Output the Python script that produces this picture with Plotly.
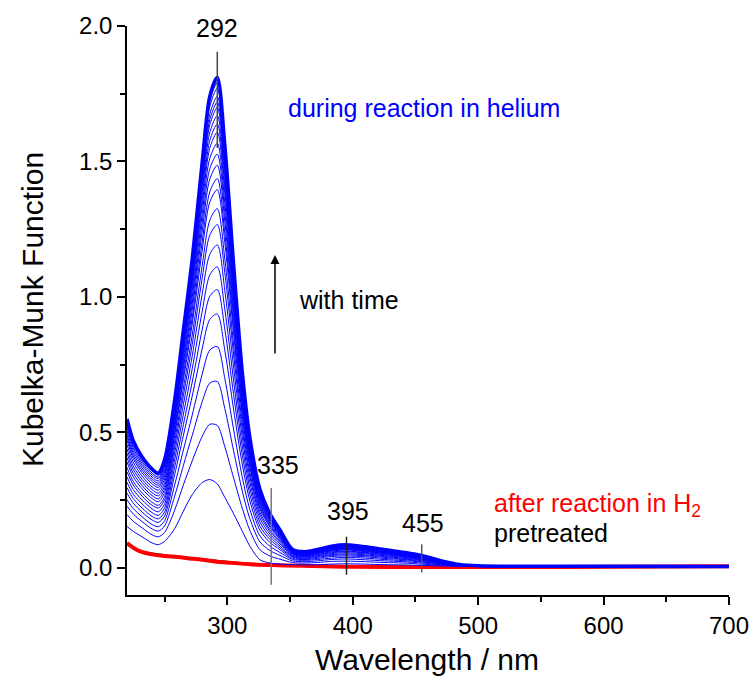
import plotly.graph_objects as go

# Wavelength grid (nm) for the time series of spectra
W = [220, 225, 232, 240, 245, 250, 258, 265, 272, 280, 286, 292, 298, 305, 312, 318, 326, 334,
     342, 352, 362, 372, 383, 395, 410, 425, 440, 455, 470, 485, 500, 530, 600, 700]

# Kubelka-Munk spectra during reaction in helium (increasing with time)
k01 = [0.153, 0.135, 0.115, 0.092, 0.086, 0.098, 0.145, 0.210, 0.270, 0.315, 0.326, 0.310, 0.260, 0.200, 0.135, 0.080, 0.030, 0.018, 0.014, 0.012, 0.011, 0.012, 0.014, 0.015, 0.014, 0.012, 0.011, 0.009, 0.007, 0.006, 0.005, 0.005, 0.005, 0.004]
k02 = [0.197, 0.172, 0.148, 0.122, 0.115, 0.131, 0.213, 0.307, 0.395, 0.486, 0.530, 0.526, 0.447, 0.332, 0.219, 0.138, 0.067, 0.044, 0.032, 0.020, 0.018, 0.020, 0.024, 0.025, 0.023, 0.020, 0.018, 0.014, 0.010, 0.007, 0.005, 0.005, 0.005, 0.004]
k03 = [0.228, 0.199, 0.171, 0.144, 0.136, 0.155, 0.265, 0.379, 0.489, 0.614, 0.682, 0.688, 0.588, 0.432, 0.282, 0.181, 0.096, 0.064, 0.046, 0.026, 0.023, 0.026, 0.031, 0.033, 0.030, 0.026, 0.023, 0.018, 0.012, 0.008, 0.006, 0.005, 0.005, 0.004]
k04 = [0.252, 0.219, 0.189, 0.160, 0.152, 0.174, 0.306, 0.436, 0.564, 0.716, 0.804, 0.817, 0.699, 0.511, 0.333, 0.215, 0.118, 0.080, 0.057, 0.031, 0.028, 0.031, 0.036, 0.039, 0.036, 0.031, 0.027, 0.022, 0.014, 0.008, 0.006, 0.005, 0.005, 0.004]
k05 = [0.276, 0.239, 0.206, 0.177, 0.168, 0.192, 0.344, 0.490, 0.634, 0.810, 0.917, 0.937, 0.803, 0.585, 0.380, 0.247, 0.139, 0.094, 0.067, 0.035, 0.031, 0.035, 0.042, 0.044, 0.041, 0.035, 0.031, 0.024, 0.015, 0.009, 0.006, 0.005, 0.005, 0.004]
k06 = [0.296, 0.256, 0.221, 0.190, 0.181, 0.207, 0.372, 0.530, 0.686, 0.881, 1.002, 1.027, 0.881, 0.640, 0.415, 0.271, 0.154, 0.105, 0.074, 0.039, 0.034, 0.039, 0.046, 0.048, 0.045, 0.039, 0.033, 0.027, 0.017, 0.009, 0.006, 0.005, 0.005, 0.004]
k07 = [0.316, 0.272, 0.236, 0.204, 0.194, 0.222, 0.399, 0.568, 0.735, 0.948, 1.081, 1.111, 0.954, 0.691, 0.447, 0.294, 0.169, 0.115, 0.081, 0.042, 0.037, 0.042, 0.049, 0.052, 0.048, 0.042, 0.036, 0.029, 0.018, 0.010, 0.007, 0.005, 0.005, 0.004]
k08 = [0.336, 0.289, 0.251, 0.218, 0.207, 0.237, 0.424, 0.604, 0.782, 1.012, 1.157, 1.192, 1.024, 0.741, 0.479, 0.315, 0.183, 0.125, 0.088, 0.045, 0.040, 0.045, 0.053, 0.056, 0.052, 0.045, 0.039, 0.031, 0.019, 0.010, 0.007, 0.006, 0.005, 0.004]
k09 = [0.355, 0.306, 0.265, 0.231, 0.221, 0.252, 0.448, 0.637, 0.825, 1.071, 1.228, 1.267, 1.089, 0.787, 0.508, 0.335, 0.196, 0.134, 0.094, 0.048, 0.042, 0.048, 0.056, 0.060, 0.055, 0.048, 0.041, 0.033, 0.020, 0.010, 0.007, 0.006, 0.005, 0.004]
k10 = [0.371, 0.319, 0.277, 0.242, 0.231, 0.264, 0.467, 0.664, 0.859, 1.117, 1.283, 1.326, 1.140, 0.823, 0.531, 0.351, 0.206, 0.141, 0.099, 0.050, 0.044, 0.050, 0.059, 0.062, 0.057, 0.050, 0.043, 0.034, 0.021, 0.011, 0.007, 0.006, 0.005, 0.004]
k11 = [0.391, 0.336, 0.292, 0.256, 0.244, 0.279, 0.489, 0.695, 0.900, 1.173, 1.350, 1.396, 1.201, 0.866, 0.559, 0.370, 0.218, 0.150, 0.105, 0.053, 0.046, 0.053, 0.062, 0.066, 0.060, 0.053, 0.045, 0.036, 0.021, 0.011, 0.007, 0.006, 0.005, 0.004]
k12 = [0.407, 0.349, 0.304, 0.267, 0.255, 0.291, 0.502, 0.713, 0.923, 1.205, 1.388, 1.437, 1.236, 0.891, 0.574, 0.380, 0.225, 0.155, 0.109, 0.054, 0.048, 0.054, 0.064, 0.068, 0.062, 0.054, 0.046, 0.037, 0.022, 0.011, 0.007, 0.006, 0.005, 0.004]
k13 = [0.423, 0.363, 0.316, 0.278, 0.266, 0.303, 0.517, 0.735, 0.952, 1.244, 1.435, 1.486, 1.279, 0.921, 0.594, 0.394, 0.234, 0.161, 0.113, 0.056, 0.049, 0.056, 0.066, 0.070, 0.064, 0.056, 0.048, 0.038, 0.023, 0.011, 0.007, 0.006, 0.005, 0.004]
k14 = [0.439, 0.376, 0.327, 0.289, 0.276, 0.315, 0.530, 0.753, 0.976, 1.276, 1.473, 1.527, 1.314, 0.946, 0.609, 0.404, 0.241, 0.166, 0.116, 0.057, 0.051, 0.057, 0.068, 0.072, 0.066, 0.057, 0.049, 0.039, 0.023, 0.012, 0.008, 0.006, 0.006, 0.005]
k15 = [0.455, 0.390, 0.339, 0.299, 0.287, 0.328, 0.543, 0.771, 0.999, 1.308, 1.511, 1.567, 1.349, 0.971, 0.625, 0.415, 0.248, 0.171, 0.120, 0.059, 0.052, 0.059, 0.069, 0.074, 0.068, 0.059, 0.050, 0.040, 0.024, 0.012, 0.008, 0.006, 0.006, 0.005]
k16 = [0.471, 0.403, 0.351, 0.310, 0.297, 0.340, 0.556, 0.790, 1.023, 1.340, 1.549, 1.608, 1.385, 0.996, 0.641, 0.426, 0.255, 0.175, 0.123, 0.060, 0.053, 0.060, 0.071, 0.076, 0.069, 0.060, 0.052, 0.041, 0.024, 0.012, 0.008, 0.006, 0.006, 0.005]
k17 = [0.483, 0.413, 0.360, 0.319, 0.305, 0.349, 0.565, 0.803, 1.040, 1.364, 1.577, 1.638, 1.411, 1.014, 0.653, 0.434, 0.260, 0.179, 0.126, 0.062, 0.054, 0.062, 0.072, 0.077, 0.071, 0.062, 0.053, 0.042, 0.025, 0.012, 0.008, 0.006, 0.006, 0.005]
k18 = [0.494, 0.423, 0.369, 0.327, 0.313, 0.358, 0.575, 0.817, 1.058, 1.389, 1.607, 1.669, 1.438, 1.034, 0.665, 0.442, 0.266, 0.183, 0.128, 0.063, 0.055, 0.063, 0.074, 0.078, 0.072, 0.063, 0.054, 0.043, 0.025, 0.012, 0.008, 0.006, 0.006, 0.005]
k19 = [0.506, 0.433, 0.378, 0.335, 0.321, 0.367, 0.585, 0.830, 1.076, 1.412, 1.635, 1.699, 1.464, 1.052, 0.677, 0.450, 0.271, 0.187, 0.131, 0.064, 0.056, 0.064, 0.075, 0.080, 0.073, 0.064, 0.055, 0.043, 0.026, 0.012, 0.008, 0.006, 0.006, 0.005]
k20 = [0.518, 0.443, 0.386, 0.343, 0.329, 0.376, 0.591, 0.839, 1.087, 1.428, 1.654, 1.719, 1.481, 1.064, 0.684, 0.456, 0.274, 0.189, 0.132, 0.065, 0.057, 0.065, 0.076, 0.081, 0.074, 0.065, 0.055, 0.044, 0.026, 0.013, 0.008, 0.006, 0.006, 0.005]
k21 = [0.528, 0.452, 0.394, 0.350, 0.335, 0.383, 0.598, 0.849, 1.099, 1.444, 1.674, 1.740, 1.499, 1.077, 0.693, 0.461, 0.278, 0.191, 0.134, 0.065, 0.058, 0.065, 0.077, 0.082, 0.075, 0.065, 0.056, 0.044, 0.026, 0.013, 0.008, 0.006, 0.006, 0.005]
k22 = [0.538, 0.460, 0.401, 0.357, 0.342, 0.391, 0.607, 0.862, 1.117, 1.468, 1.702, 1.770, 1.525, 1.095, 0.704, 0.469, 0.283, 0.195, 0.137, 0.066, 0.059, 0.066, 0.078, 0.083, 0.076, 0.066, 0.057, 0.045, 0.026, 0.013, 0.008, 0.006, 0.006, 0.005]
k23 = [0.544, 0.465, 0.406, 0.361, 0.346, 0.395, 0.614, 0.871, 1.129, 1.485, 1.722, 1.791, 1.543, 1.108, 0.712, 0.475, 0.287, 0.198, 0.138, 0.067, 0.059, 0.067, 0.079, 0.084, 0.077, 0.067, 0.057, 0.046, 0.027, 0.013, 0.008, 0.006, 0.006, 0.005]
k24 = [0.550, 0.470, 0.410, 0.365, 0.350, 0.400, 0.620, 0.880, 1.140, 1.500, 1.740, 1.810, 1.560, 1.120, 0.720, 0.480, 0.290, 0.200, 0.140, 0.068, 0.060, 0.068, 0.080, 0.085, 0.078, 0.068, 0.058, 0.046, 0.027, 0.013, 0.008, 0.006, 0.006, 0.005]

HELIUM = [k01, k02, k03, k04, k05, k06, k07, k08, k09, k10, k11, k12,
          k13, k14, k15, k16, k17, k18, k19, k20, k21, k22, k23, k24]

# Baseline spectra
W_BASE = [220, 225, 230, 240, 250, 260, 270, 280, 290, 300, 320, 340, 360, 400, 450, 500, 600, 700]
K_PRETREATED = [0.088, 0.073, 0.062, 0.052, 0.046, 0.041, 0.036, 0.031, 0.026, 0.021, 0.014, 0.011, 0.008, 0.005, 0.003, 0.003, 0.003, 0.004]
K_H2 = [0.092, 0.075, 0.062, 0.050, 0.044, 0.040, 0.035, 0.030, 0.024, 0.020, 0.013, 0.010, 0.008, 0.004, 0.003, 0.003, 0.004, 0.006]

# Band markers: wavelength, line top, line bottom, label position
BANDS = [292, 335, 395, 455]
BAND_TOP = [1.905, 0.295, 0.115, 0.087]
BAND_BOTTOM = [1.55, -0.062, -0.025, -0.017]
BAND_LABEL_X = [292, 340.5, 396, 456]
BAND_LABEL_Y = [1.992, 0.381, 0.211, 0.167]
BAND_COLORS = ["#444444", "#777777", "#222222", "#555555"]

FONT = "Arial, Liberation Sans, sans-serif"
ANN_SIZE = 25

fig = go.Figure()

fig.add_trace(go.Scatter(x=W_BASE, y=K_PRETREATED, mode="lines",
                         line=dict(color="black", width=2.5, shape="spline"),
                         showlegend=False, hoverinfo="skip"))
fig.add_trace(go.Scatter(x=W_BASE, y=K_H2, mode="lines",
                         line=dict(color="#ff0000", width=4, shape="spline"),
                         showlegend=False, hoverinfo="skip"))

for i, k in enumerate(HELIUM):
    last = i == len(HELIUM) - 1
    fig.add_trace(go.Scatter(x=W, y=k, mode="lines",
                             line=dict(color="#0000ff", width=3.5 if last else 1,
                                       shape="spline", smoothing=0.8),
                             showlegend=False, hoverinfo="skip"))

shapes = []
annotations = []
for b, top, bot, lx, ly, col in zip(BANDS, BAND_TOP, BAND_BOTTOM, BAND_LABEL_X,
                                    BAND_LABEL_Y, BAND_COLORS):
    shapes.append(dict(type="line", xref="x", yref="y", x0=b, x1=b, y0=bot, y1=top,
                       line=dict(color=col, width=1.5)))
    annotations.append(dict(x=lx, y=ly, xref="x", yref="y", text=str(b), showarrow=False,
                            xanchor="center", yanchor="middle",
                            font=dict(family=FONT, size=ANN_SIZE, color="black")))

annotations += [
    dict(x=346.7, y=1.697, xref="x", yref="y", text="during reaction in helium",
         showarrow=False, xanchor="left", yanchor="middle",
         font=dict(family=FONT, size=ANN_SIZE, color="#0000ff")),
    dict(x=355.5, y=0.989, xref="x", yref="y", text="with time",
         showarrow=False, xanchor="left", yanchor="middle",
         font=dict(family=FONT, size=ANN_SIZE, color="black")),
    dict(x=510.8, y=0.233, xref="x", yref="y", text="after reaction in H<sub>2</sub>",
         showarrow=False, xanchor="left", yanchor="middle",
         font=dict(family=FONT, size=ANN_SIZE, color="#ff0000")),
    dict(x=510.8, y=0.130, xref="x", yref="y", text="pretreated",
         showarrow=False, xanchor="left", yanchor="middle",
         font=dict(family=FONT, size=ANN_SIZE, color="black")),
    dict(x=338, y=1.155, ax=338, ay=0.786, xref="x", yref="y", axref="x", ayref="y",
         text="", showarrow=True, arrowhead=2, arrowsize=1.2, arrowwidth=1.5,
         arrowcolor="black"),
    dict(x=0.498, y=-0.114, xref="paper", yref="paper", text="Wavelength / nm",
         showarrow=False, xanchor="center", yanchor="middle",
         font=dict(family=FONT, size=30, color="black")),
    dict(x=-0.156, y=0.501, xref="paper", yref="paper", text="Kubelka-Munk Function",
         showarrow=False, xanchor="center", yanchor="middle", textangle=-90,
         font=dict(family=FONT, size=30, color="black")),
]

fig.update_layout(
    width=749, height=685,
    margin=dict(l=127, r=20, t=26, b=90, autoexpand=False),
    paper_bgcolor="white", plot_bgcolor="white",
    shapes=shapes, annotations=annotations,
    font=dict(family=FONT, size=24, color="black"),
)

fig.update_xaxes(range=[220, 700], showgrid=False, zeroline=False, automargin=False,
                 ticklabeloverflow="allow",
                 showline=True, linecolor="black", linewidth=1.5,
                 ticks="outside", ticklen=8, tickwidth=1.5, tickcolor="black",
                 tickvals=[300, 400, 500, 600, 700],
                 minor=dict(tickvals=[250, 350, 450, 550, 650], ticks="outside",
                            ticklen=5, tickwidth=1.5, tickcolor="black"),
                 tickfont=dict(family=FONT, size=24, color="black"))
fig.update_yaxes(range=[-0.1, 2.0], showgrid=False, zeroline=False, automargin=False,
                 ticklabeloverflow="allow",
                 showline=True, linecolor="black", linewidth=1.5,
                 ticks="outside", ticklen=8, tickwidth=1.5, tickcolor="black",
                 tickvals=[0, 0.5, 1.0, 1.5, 2.0], ticktext=["0.0", "0.5", "1.0", "1.5", "2.0"],
                 minor=dict(tickvals=[0.25, 0.75, 1.25, 1.75], ticks="outside",
                            ticklen=5, tickwidth=1.5, tickcolor="black"),
                 tickfont=dict(family=FONT, size=24, color="black"))

fig.write_html("out.html")
